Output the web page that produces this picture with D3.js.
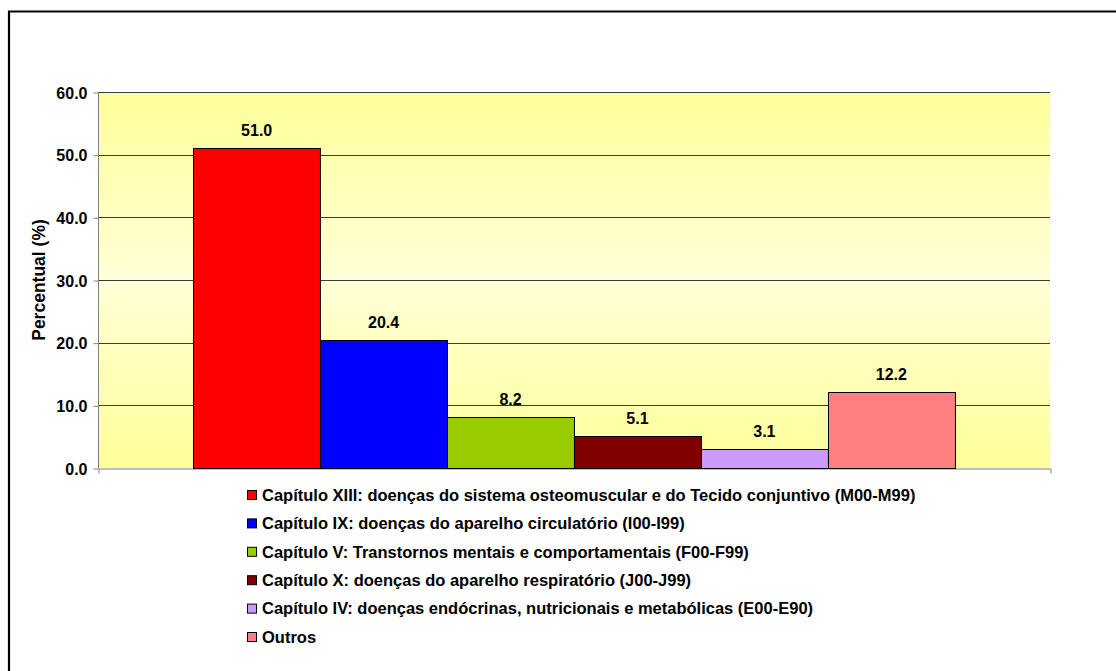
<!DOCTYPE html>
<html><head><meta charset="utf-8">
<script src="https://cdn.jsdelivr.net/npm/d3@7/dist/d3.min.js"></script>
<style>
html,body{margin:0;padding:0;background:#fff;}
svg{display:block;font-family:"Liberation Sans",Arial,sans-serif;}
</style></head>
<body><svg id="chart" width="1116" height="671"></svg>
<script>
const categories = ["Capítulo XIII: doenças do sistema osteomuscular e do Tecido conjuntivo (M00-M99)",
  "Capítulo IX: doenças do aparelho circulatório (I00-I99)",
  "Capítulo V: Transtornos mentais e comportamentais (F00-F99)",
  "Capítulo X: doenças do aparelho respiratório (J00-J99)",
  "Capítulo IV: doenças endócrinas, nutricionais e metabólicas (E00-E90)",
  "Outros"];
const values = [51.0, 20.4, 8.2, 5.1, 3.1, 12.2];
const colors = ["#FF0000", "#0000FF", "#99CC00", "#800000", "#CC99FF", "#FF8080"];
const yTicks = [0, 10, 20, 30, 40, 50, 60];
const yTitle = "Percentual (%)";

const svg = d3.select("#chart");
const L = 98, R = 1050, T = 92, B = 468;

const defs = svg.append("defs");
const grad = defs.append("linearGradient").attr("id","bg").attr("x1",0).attr("y1",0).attr("x2",0).attr("y2",1);
grad.append("stop").attr("offset","0%").attr("stop-color","#FFFF99");
grad.append("stop").attr("offset","50%").attr("stop-color","#FFFFD8");
grad.append("stop").attr("offset","100%").attr("stop-color","#FFFF99");

// outer frame (left and top visible)
svg.append("path").attr("d","M9,671 V11.5 H1116").attr("fill","none").attr("stroke","#000").attr("stroke-width",2.2);

const y = d3.scaleLinear().domain([0,60]).range([B,T]);
const xGroup = d3.scaleBand().domain(["g"]).range([L,R]).paddingOuter(0.125).paddingInner(0);
const x = d3.scaleBand().domain(categories).range([xGroup("g"), xGroup("g")+xGroup.bandwidth()]).padding(0);

svg.append("rect").attr("x",L).attr("y",T).attr("width",R-L).attr("height",B-T).attr("fill","url(#bg)");

// gridlines
svg.append("g").selectAll("line").data(yTicks.filter(d=>d>0)).join("line")
  .attr("x1",L).attr("x2",R).attr("y1",d=>Math.round(y(d))+0.5).attr("y2",d=>Math.round(y(d))+0.5)
  .attr("stroke","#3a3a3a").attr("stroke-width",1);

// y axis
const yAxis = d3.axisLeft(y).tickValues(yTicks).tickFormat(d3.format(".1f")).tickSize(5).tickPadding(6);
const gy = svg.append("g").attr("transform",`translate(${L+0.5},0.5)`).call(yAxis);
gy.select(".domain").attr("stroke","#808080").attr("d",`M0,${T}V${B}`);
gy.selectAll(".tick line").attr("stroke","#808080");
gy.selectAll(".tick text").attr("font-size",16).attr("font-weight","bold").attr("fill","#000")
  .attr("font-family",'"Liberation Sans",Arial,sans-serif').attr("dy","0.35em");

// x axis line
const xAxis = d3.axisBottom(xGroup).tickValues([]).tickSizeOuter(5);
const gx = svg.append("g").attr("transform",`translate(0.5,${B+0.5})`).call(xAxis);
gx.select(".domain").attr("stroke","#808080");

// bars
svg.append("g").selectAll("rect").data(values).join("rect")
  .attr("x",(d,i)=>Math.round(x(categories[i]))+0.5)
  .attr("y",d=>Math.round(y(d))+0.5)
  .attr("width",x.bandwidth())
  .attr("height",d=>Math.round(y(0))-Math.round(y(d)))
  .attr("fill",(d,i)=>colors[i]).attr("stroke","#000").attr("stroke-width",1);

// data labels
svg.append("g").selectAll("text").data(values).join("text")
  .attr("x",(d,i)=>x(categories[i])+x.bandwidth()/2)
  .attr("y",d=>y(d)-12)
  .attr("text-anchor","middle").attr("font-size",16).attr("font-weight","bold")
  .text(d=>d3.format(".1f")(d));

// y title
svg.append("text").attr("transform",`translate(45,${(T+B)/2}) rotate(-90)`)
  .attr("text-anchor","middle").attr("font-size",17.5).attr("font-weight","bold").text(yTitle);

// legend
const lg = svg.append("g").selectAll("g").data(categories).join("g")
  .attr("transform",(d,i)=>`translate(247,${495+i*28.4})`);
lg.append("rect").attr("x",0.5).attr("y",-4.5).attr("width",9).attr("height",9)
  .attr("fill",(d,i)=>colors[i]).attr("stroke","#000").attr("stroke-width",1);
lg.append("text").attr("x",15).attr("y",5.8).attr("font-size",16.5).attr("font-weight","bold").text(d=>d);
</script></body></html>
